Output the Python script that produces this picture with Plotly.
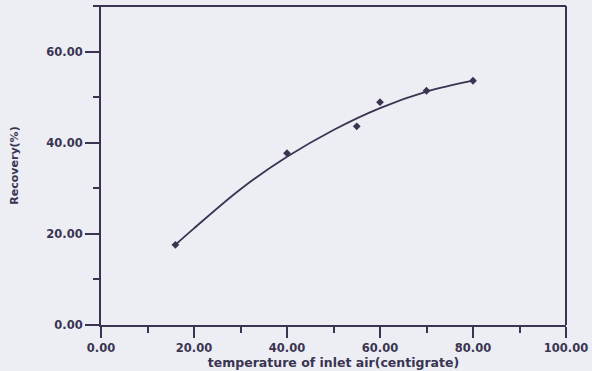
import plotly.graph_objects as go

# measured points
temp_points = [16, 40, 55, 60, 70, 80]
recovery_points = [17.6, 37.7, 43.6, 48.9, 51.4, 53.6]

# fitted curve
temp_curve = [16, 20, 30, 40, 50, 60, 70, 80]
recovery_curve = [17.6, 21.2, 29.8, 36.9, 42.8, 47.6, 51.2, 53.6]

x_ticks = [0, 20, 40, 60, 80, 100]
y_ticks = [0, 20, 40, 60]

ink = "#3a3452"
paper = "#eceef4"
fam = "DejaVu Sans, Liberation Sans, sans-serif"

fig = go.Figure()
fig.add_trace(go.Scatter(x=temp_curve, y=recovery_curve, mode="lines",
                         line=dict(color=ink, width=1.8, shape="spline", smoothing=1.0),
                         hoverinfo="skip", showlegend=False))
fig.add_trace(go.Scatter(x=temp_points, y=recovery_points, mode="markers",
                         marker=dict(symbol="diamond", size=6, color=ink),
                         showlegend=False))

tickfont = dict(family=fam, size=11.5, color=ink, weight="bold")

fig.update_layout(
    width=592, height=371,
    margin=dict(l=101, r=26, t=6, b=46),
    paper_bgcolor=paper, plot_bgcolor=paper,
    font=dict(family=fam, color=ink),
    xaxis=dict(range=[0, 100], tickvals=x_ticks, tickformat=".2f", automargin=False,
               ticks="outside", ticklen=11, tickwidth=2, tickcolor=ink,
               minor=dict(dtick=10, ticks="outside", ticklen=6, tickwidth=2, tickcolor=ink, showgrid=False),
               showline=True, linewidth=2, linecolor=ink, mirror=False,
               showgrid=False, zeroline=False, tickfont=tickfont,
               title=dict(text="temperature of inlet air(centigrate)", standoff=0,
                          font=dict(family=fam, size=12.5, color=ink, weight="bold"))),
    yaxis=dict(range=[0, 70], tickvals=y_ticks, tickformat=".2f", automargin=False,
               ticks="outside", ticklen=14, tickwidth=2, tickcolor=ink,
               minor=dict(dtick=10, ticks="outside", ticklen=6, tickwidth=2, tickcolor=ink, showgrid=False),
               showline=True, linewidth=2, linecolor=ink, mirror=False,
               showgrid=False, zeroline=False, tickfont=tickfont,
               title=dict(text="Recovery(%)", standoff=25,
                          font=dict(family=fam, size=11, color=ink, weight="bold"))),
    shapes=[
        dict(type="line", xref="paper", yref="paper", x0=-0.017, x1=1, y0=1, y1=1,
             line=dict(color=ink, width=2)),
        dict(type="line", xref="paper", yref="paper", x0=1, x1=1, y0=0, y1=1,
             line=dict(color=ink, width=2)),
    ],
)

fig.write_html("out.html", config={"displayModeBar": False},
               post_script="document.body.style.margin='0';document.body.style.background='%s';" % paper)
